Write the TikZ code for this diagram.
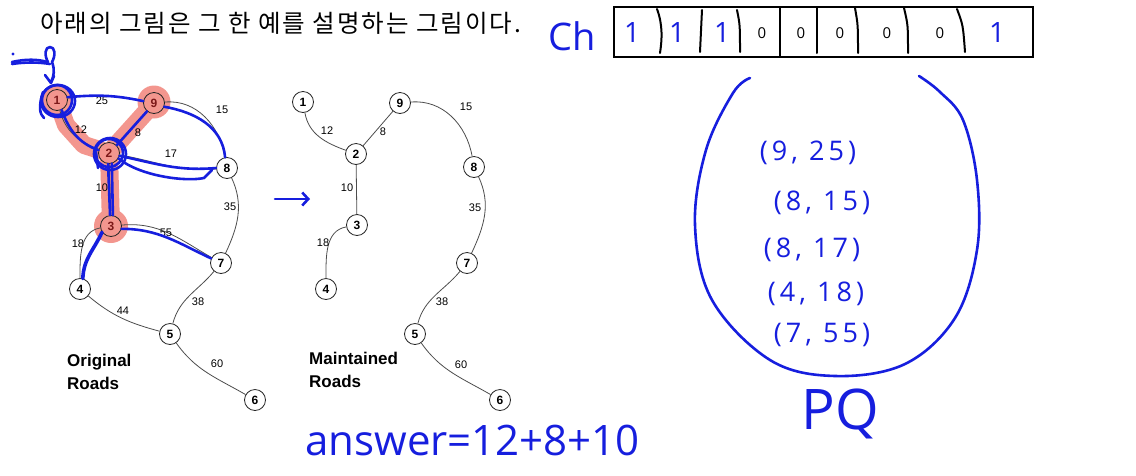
\documentclass[tikz,border=0pt]{standalone}
\usepackage{fontspec}
\setmainfont{Liberation Sans}
\newfontfamily\kofont[LetterSpace=8]{Noto Sans CJK KR}
\newfontfamily\handfont{Open Sans}
\newfontfamily\pqfont[LetterSpace=15]{Open Sans}
\usetikzlibrary{arrows.meta}
\definecolor{ink}{RGB}{22,30,222}
\definecolor{salmon}{RGB}{243,150,142}
\definecolor{deepred}{RGB}{125,25,25}
\tikzset{
  city/.style={circle, draw=black!85, line width=0.8pt, fill=white, minimum size=21pt, inner sep=0pt, font=\fontsize{12}{12}\selectfont\bfseries},
  hot/.style={city, fill=salmon, text=deepred},
  road/.style={black!70, line width=0.8pt},
  cost/.style={inner sep=0pt, font=\fontsize{11}{11}\selectfont},
  pen/.style={ink, line width=2.6pt, line cap=round, line join=round},
  glow/.style={salmon, line width=18pt, line cap=round, line join=round},
  caption/.style={inner sep=0pt, anchor=north west, align=left, font=\fontsize{17}{23}\selectfont\bfseries},
  scrawl/.style={inner sep=0pt, text=ink, font=\handfont},
  pqentry/.style={inner sep=0pt, text=ink, font=\pqfont\fontsize{27}{27}\selectfont},
}

\begin{document}
\begin{tikzpicture}[x=1pt,y=1pt]
		\useasboundingbox (0,0) rectangle (1136,-475);
		
		%%%%% TITLE %%%%%
		\node[anchor=west, inner sep=0pt, font=\kofont\fontsize{24.5}{26}\selectfont] (title) at (40,-23) {아래의 그림은 그 한 예를 설명하는 그림이다.};
		
		%%%%% ORIGINAL ROADS %%%%%
		% highlight under the chosen roads
		\draw[glow] (57,-100) -- (66,-125) -- (84,-145) -- (109,-153) -- (154,-103);
		\draw[glow] (109,-153) -- (111,-226);
		\fill[salmon] (57,-100) circle (16);
		\fill[salmon] (154,-102) circle (16.5);
		\fill[salmon] (111,-226) circle (17);
		
		\node[hot] (o1) at (57,-100) {1};
		\node[hot] (o9) at (154,-103) {9};
		\node[hot] (o2) at (109,-153) {2};
		\node[city] (o8) at (227,-168) {8};
		\node[hot] (o3) at (111,-226) {3};
		\node[city] (o7) at (221,-263) {7};
		\node[city] (o4) at (80,-289) {4};
		\node[city] (o5) at (170,-334) {5};
		\node[city] (o6) at (255,-400) {6};
		
		\draw[road] (o1) to[out=10,in=170] (o9);
		\draw[road] (o1) to[out=-75,in=160] (o2);
		\draw[road] (o9) -- (o2);
		\draw[road] (o9) to[out=5,in=100] (o8);
		\draw[road] (o2) to[out=-10,in=185] (o8);
		\draw[road] (o2) -- (o3);
		\draw[road] (o3) to[out=190,in=90] (o4);
		\draw[road] (o3) to[out=5,in=150] (o7);
		\draw[road] (o8) to[out=-65,in=65] (o7);
		\draw[road] (o4) to[out=-40,in=165] (o5);
		\draw[road] (o7) to[out=-130,in=75] (o5);
		\draw[road] (o5) to[out=-55,in=150] (o6);
		
		\node[cost] (c25) at (102,-101) {25};
		\node[cost] (c15) at (222,-110) {15};
		\node[cost] (c12) at (81,-130) {12};
		\node[cost] (c8) at (138,-133) {8};
		\node[cost] (c17) at (171,-154) {17};
		\node[cost] (c10) at (102,-188) {10};
		\node[cost] (c35) at (230,-207) {35};
		\node[cost] (c55) at (166,-233) {55};
		\node[cost] (c18) at (78,-244) {18};
		\node[cost] (c44) at (123,-311) {44};
		\node[cost] (c38) at (198,-302) {38};
		\node[cost] (c60) at (217,-364) {60};
		
		\node[caption] (orig) at (67,-354) {Original\\Roads};
		
		% blue ink over the original roads
		\draw[pen] (o1.15) to[out=5,in=168] (o9.170);
		\draw[pen] (o9.-20) to[out=-10,in=95] (o8.100);
		\draw[pen] (o2.-15) to[out=-12,in=185] (o8.180);
		\draw[pen] (o2.-30) .. controls (140,-176) and (185,-182) .. (204,-178) -- (212,-170);
		\draw[pen] (o9.-130) -- (o2.45);
		\draw[pen] (o1.-65) to[out=-70,in=160] (o2.165);
		\draw[pen] (o2.-95) -- (o3.95);
		\draw[pen] (o2.-75) -- (o3.80);
		\draw[pen] (o3.-15) to[out=0,in=155] (o7.155);
		\draw[pen, line width=3.6pt] (o3.-145) to[out=-115,in=88] (o4.75);
		\draw[pen] (o1) circle (15);
		\draw[pen] (58,-101) ellipse (17 and 16);
		\draw[pen] (43,-92) .. controls (38,-108) and (40,-114) .. (44,-118);
		\draw[pen] (o2) circle (14);
		\draw[pen] (110,-154) circle (16);
		\draw[pen] (96,-152) -- (98,-168);
		% little arrow into node 1
		\fill[ink] (13,-54) circle (1.6);
		\draw[pen] (12,-62) .. controls (25,-59) and (38,-59) .. (47,-62);
		\draw[pen] (12,-64) .. controls (25,-62) and (38,-62) .. (50,-64);
		\draw[pen] (48,-62) .. controls (44,-55) and (45,-47) .. (50,-47) .. controls (55,-47) and (56,-55) .. (52,-62);
		\draw[pen] (52,-62) .. controls (55,-70) and (54,-76) .. (51,-82);
		\draw[pen] (45,-75) -- (51,-83) -- (54,-76);
		
		%%%%% ARROW %%%%%
		\coordinate (gofrom) at (275,-199);
		\coordinate (goto) at (310,-199);
		\draw[pen, -{Straight Barb[length=6pt,width=13pt]}] (gofrom) -- (goto);
		
		%%%%% MAINTAINED ROADS %%%%%
		\node[city] (m1) at (303,-102) {1};
		\node[city] (m9) at (400,-103) {9};
		\node[city] (m2) at (356,-154) {2};
		\node[city] (m8) at (474,-167) {8};
		\node[city] (m3) at (357,-225) {3};
		\node[city] (m7) at (467,-263) {7};
		\node[city] (m4) at (326,-289) {4};
		\node[city] (m5) at (415,-334) {5};
		\node[city] (m6) at (500,-400) {6};
		
		\draw[road] (m1) to[out=-80,in=160] (m2);
		\draw[road] (m9) -- (m2);
		\draw[road] (m9) to[out=5,in=100] (m8);
		\draw[road] (m2) -- (m3);
		\draw[road] (m3) to[out=190,in=90] (m4);
		\draw[road] (m8) to[out=-65,in=65] (m7);
		\draw[road] (m7) to[out=-130,in=75] (m5);
		\draw[road] (m5) to[out=-55,in=150] (m6);
		
		\node[cost] (k12) at (327,-131) {12};
		\node[cost] (k8) at (383,-132) {8};
		\node[cost] (k15) at (466,-107) {15};
		\node[cost] (k10) at (347,-188) {10};
		\node[cost] (k35) at (475,-208) {35};
		\node[cost] (k18) at (323,-243) {18};
		\node[cost] (k38) at (442,-302) {38};
		\node[cost] (k60) at (461,-365) {60};
		
		\node[caption] (kept) at (309,-352) {Maintained\\Roads};
		
		\node[scrawl, anchor=west, font=\handfont\fontsize{42}{42}\selectfont] (answer) at (305,-440) {answer=12+8+10};
		
		%%%%% CHECK ARRAY %%%%%
		\node[scrawl, font=\handfont\fontsize{38}{38}\selectfont] (ch) at (572,-36) {Ch};
		\draw[line width=1.5pt] (614,-7) rectangle (1033,-57);
		\draw[line width=2pt, line cap=round] (657,-9) .. controls (663,-25) and (662,-40) .. (660,-53);
		\draw[line width=2pt, line cap=round] (702,-10) -- (700,-52);
		\draw[line width=2pt, line cap=round] (737,-10) .. controls (740,-25) .. (740,-52);
		\draw[line width=1.2pt] (780,-7) -- (780,-57);
		\draw[line width=2pt, line cap=round] (817,-7) -- (817,-53);
		\draw[line width=2pt, line cap=round] (855,-8) .. controls (858,-25) .. (858,-53);
		\draw[line width=2pt, line cap=round] (904,-8) .. controls (908,-25) .. (908,-53);
		\draw[line width=2pt, line cap=round] (957,-9) .. controls (963,-25) .. (965,-52);
		\foreach \x/\b/\c [count=\i] in {632/1/ink, 677/1/ink, 722/1/ink, 762/0/black, 801/0/black, 840/0/black, 887/0/black, 940/0/black, 997/1/ink}
		  \node[inner sep=0pt, text=\c, font=\handfont\fontsize{\ifnum\b=1 28\else 15\fi}{28}\selectfont] (bit\i) at (\x,-33) {\b};
		
		%%%%% PQ %%%%%
		\draw[pen] plot[smooth, tension=0.6] coordinates {(750,-78) (733,-93) (706,-150) (695,-225) (712,-300) (770,-360) (835,-376) (905,-364) (955,-318) (977,-250) (977,-180) (963,-120) (940,-92) (919,-76)};
		\node[pqentry] (pq1) at (808,-153) {(9, 25)};
		\node[pqentry] (pq2) at (822,-203) {(8, 15)};
		\node[pqentry] (pq3) at (812,-250) {(8, 17)};
		\node[pqentry] (pq4) at (816,-294) {(4, 18)};
		\node[pqentry] (pq5) at (822,-335) {(7, 55)};
		\node[scrawl, font=\handfont\fontsize{56}{56}\selectfont] (pq) at (840,-414) {PQ};
		
		%%%%% END %%%%%
	\end{tikzpicture}
\end{document}
